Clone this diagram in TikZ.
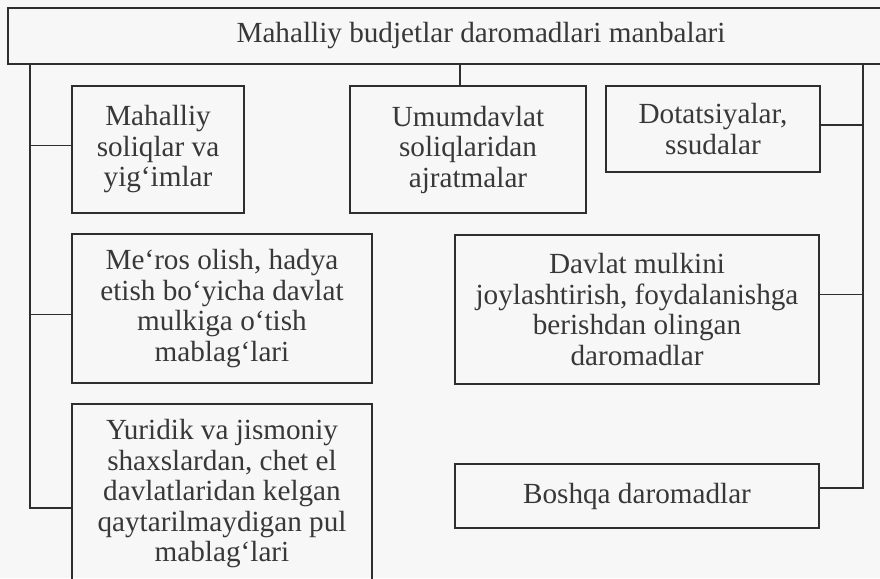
\documentclass[tikz,border=0pt]{standalone}
\usepackage{fontspec}
\setmainfont{Liberation Serif}
\colorlet{boxBorder}{black!82}
\colorlet{boxText}{black!78}
\colorlet{pageBg}{black!3}
\tikzset{
  srcbox/.style={draw=boxBorder, line width=1.4pt, text=boxText, align=center,
    inner sep=0pt, font=\fontsize{29.2}{30.5}\selectfont},
  bus/.style={draw=boxBorder, line width=1.4pt}
}

\begin{document}
\begin{tikzpicture}[x=1pt, y=-1pt]
   \fill[pageBg] (0,0) rectangle (880,578);
   \useasboundingbox (0,0) rectangle (880,578);

   \node[srcbox, minimum width=946, minimum height=56] (manba) at (481,36) {Mahalliy budjetlar daromadlari manbalari};

   % left column
   \node[srcbox, minimum width=172, minimum height=127] (mahal) at (158,149.5) {Mahalliy\\soliqlar va\\yig‘imlar};
   \node[srcbox, minimum width=300, minimum height=149] (meros) at (222,308.5) {Me‘ros olish, hadya\\etish bo‘yicha davlat\\mulkiga o‘tish\\mablag‘lari};
   \node[srcbox, minimum width=300, minimum height=180] (yuridik) at (222,494) {Yuridik va jismoniy\\shaxslardan, chet el\\davlatlaridan kelgan\\qaytarilmaydigan pul\\mablag‘lari};

   % middle and right column
   \node[srcbox, minimum width=236, minimum height=127] (umum) at (468,149.5) {Umumdavlat\\soliqlaridan\\ajratmalar};
   \node[srcbox, minimum width=214, minimum height=86] (dotats) at (713,129) {Dotatsiyalar,\\ssudalar};
   \node[srcbox, minimum width=364, minimum height=149] (mulk) at (637,309.5) {Davlat mulkini\\joylashtirish, foydalanishga\\berishdan olingan\\daromadlar};
   \node[srcbox, minimum width=364, minimum height=64] (boshqa) at (637,496) {Boshqa daromadlar};

   \coordinate (lbus) at (30,0);
   \coordinate (rbus) at (863,0);

   \draw[bus] (manba.south -| lbus) |- ([yshift=-14pt]yuridik.west);
   \draw[bus] ([yshift=4pt]mahal.west) -- ([yshift=4pt]mahal.west -| lbus);
   \draw[bus] ([yshift=-6pt]meros.west) -- ([yshift=-6pt]meros.west -| lbus);

   \draw[bus] ([xshift=-8pt]manba.south -| umum.north) -- ([xshift=-8pt]umum.north);

   \draw[bus] (manba.south -| rbus) |- ([yshift=8pt]boshqa.east);
   \draw[bus] ([yshift=4pt]dotats.east) -- ([yshift=4pt]dotats.east -| rbus);
   \draw[bus] ([yshift=15pt]mulk.east) -- ([yshift=15pt]mulk.east -| rbus);
\end{tikzpicture}
\end{document}
